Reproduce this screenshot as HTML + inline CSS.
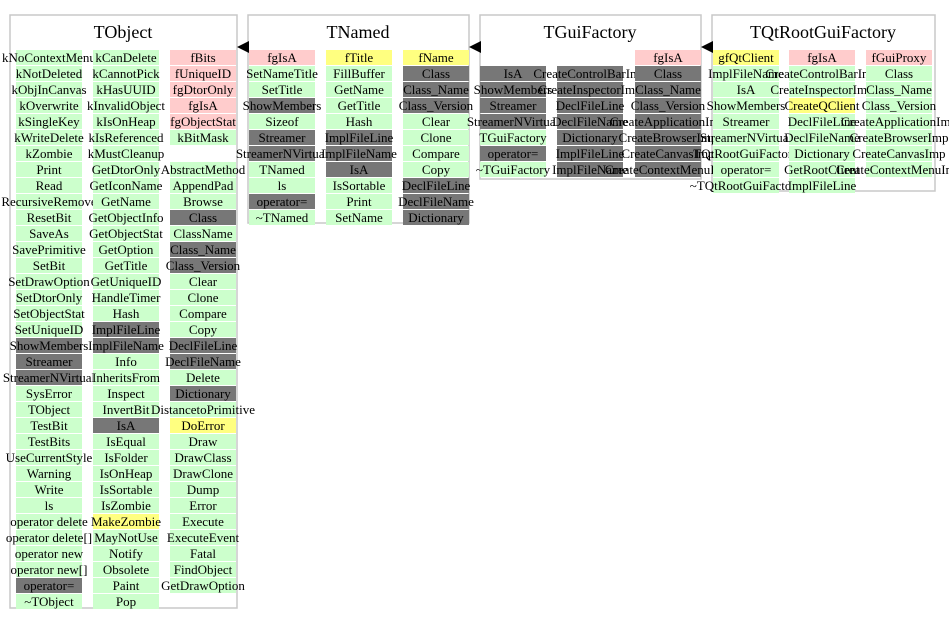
<!DOCTYPE html>
<html><head><meta charset="utf-8"><style>
html,body{margin:0;padding:0;background:#fff}
svg{display:block}
text{font-family:"Liberation Serif",serif;font-size:13px;text-anchor:middle;fill:#000}
.t{font-size:18px}
.g{fill:#ccffcc}.p{fill:#ffcccc}.y{fill:#ffff80}.d{fill:#777777}
.b{fill:#fff;stroke:#c8c8c8;stroke-width:1.5}
</style></head><body>
<svg width="949" height="624" viewBox="0 0 949 624">
<rect class="b" x="10" y="15" width="227" height="593"/>
<rect class="b" x="248" y="15" width="221" height="208"/>
<rect class="b" x="480" y="15" width="221" height="164"/>
<rect class="b" x="712" y="15" width="223" height="176"/>
<text class="t" x="123" y="38">TObject</text>
<text class="t" x="358" y="38">TNamed</text>
<text class="t" x="590" y="38">TGuiFactory</text>
<text class="t" x="823" y="38">TQtRootGuiFactory</text>
<polygon points="237,47 249,41 249,53" fill="#000"/>
<polygon points="469,47 481,41 481,53" fill="#000"/>
<polygon points="701,47 713,41 713,53" fill="#000"/>

<g>
<rect class="g" x="16" y="50" width="66" height="15"/><text x="49" y="62">kNoContextMenu</text>
<rect class="g" x="16" y="66" width="66" height="15"/><text x="49" y="78">kNotDeleted</text>
<rect class="g" x="16" y="82" width="66" height="15"/><text x="49" y="94">kObjInCanvas</text>
<rect class="g" x="16" y="98" width="66" height="15"/><text x="49" y="110">kOverwrite</text>
<rect class="g" x="16" y="114" width="66" height="15"/><text x="49" y="126">kSingleKey</text>
<rect class="g" x="16" y="130" width="66" height="15"/><text x="49" y="142">kWriteDelete</text>
<rect class="g" x="16" y="146" width="66" height="15"/><text x="49" y="158">kZombie</text>
<rect class="g" x="16" y="162" width="66" height="15"/><text x="49" y="174">Print</text>
<rect class="g" x="16" y="178" width="66" height="15"/><text x="49" y="190">Read</text>
<rect class="g" x="16" y="194" width="66" height="15"/><text x="49" y="206">RecursiveRemove</text>
<rect class="g" x="16" y="210" width="66" height="15"/><text x="49" y="222">ResetBit</text>
<rect class="g" x="16" y="226" width="66" height="15"/><text x="49" y="238">SaveAs</text>
<rect class="g" x="16" y="242" width="66" height="15"/><text x="49" y="254">SavePrimitive</text>
<rect class="g" x="16" y="258" width="66" height="15"/><text x="49" y="270">SetBit</text>
<rect class="g" x="16" y="274" width="66" height="15"/><text x="49" y="286">SetDrawOption</text>
<rect class="g" x="16" y="290" width="66" height="15"/><text x="49" y="302">SetDtorOnly</text>
<rect class="g" x="16" y="306" width="66" height="15"/><text x="49" y="318">SetObjectStat</text>
<rect class="g" x="16" y="322" width="66" height="15"/><text x="49" y="334">SetUniqueID</text>
<rect class="d" x="16" y="338" width="66" height="15"/><text x="49" y="350">ShowMembers</text>
<rect class="d" x="16" y="354" width="66" height="15"/><text x="49" y="366">Streamer</text>
<rect class="d" x="16" y="370" width="66" height="15"/><text x="49" y="382">StreamerNVirtual</text>
<rect class="g" x="16" y="386" width="66" height="15"/><text x="49" y="398">SysError</text>
<rect class="g" x="16" y="402" width="66" height="15"/><text x="49" y="414">TObject</text>
<rect class="g" x="16" y="418" width="66" height="15"/><text x="49" y="430">TestBit</text>
<rect class="g" x="16" y="434" width="66" height="15"/><text x="49" y="446">TestBits</text>
<rect class="g" x="16" y="450" width="66" height="15"/><text x="49" y="462">UseCurrentStyle</text>
<rect class="g" x="16" y="466" width="66" height="15"/><text x="49" y="478">Warning</text>
<rect class="g" x="16" y="482" width="66" height="15"/><text x="49" y="494">Write</text>
<rect class="g" x="16" y="498" width="66" height="15"/><text x="49" y="510">ls</text>
<rect class="g" x="16" y="514" width="66" height="15"/><text x="49" y="526">operator delete</text>
<rect class="g" x="16" y="530" width="66" height="15"/><text x="49" y="542">operator delete[]</text>
<rect class="g" x="16" y="546" width="66" height="15"/><text x="49" y="558">operator new</text>
<rect class="g" x="16" y="562" width="66" height="15"/><text x="49" y="574">operator new[]</text>
<rect class="d" x="16" y="578" width="66" height="15"/><text x="49" y="590">operator=</text>
<rect class="g" x="16" y="594" width="66" height="15"/><text x="49" y="606">~TObject</text>
</g>
<g>
<rect class="g" x="93" y="50" width="66" height="15"/><text x="126" y="62">kCanDelete</text>
<rect class="g" x="93" y="66" width="66" height="15"/><text x="126" y="78">kCannotPick</text>
<rect class="g" x="93" y="82" width="66" height="15"/><text x="126" y="94">kHasUUID</text>
<rect class="g" x="93" y="98" width="66" height="15"/><text x="126" y="110">kInvalidObject</text>
<rect class="g" x="93" y="114" width="66" height="15"/><text x="126" y="126">kIsOnHeap</text>
<rect class="g" x="93" y="130" width="66" height="15"/><text x="126" y="142">kIsReferenced</text>
<rect class="g" x="93" y="146" width="66" height="15"/><text x="126" y="158">kMustCleanup</text>
<rect class="g" x="93" y="162" width="66" height="15"/><text x="126" y="174">GetDtorOnly</text>
<rect class="g" x="93" y="178" width="66" height="15"/><text x="126" y="190">GetIconName</text>
<rect class="g" x="93" y="194" width="66" height="15"/><text x="126" y="206">GetName</text>
<rect class="g" x="93" y="210" width="66" height="15"/><text x="126" y="222">GetObjectInfo</text>
<rect class="g" x="93" y="226" width="66" height="15"/><text x="126" y="238">GetObjectStat</text>
<rect class="g" x="93" y="242" width="66" height="15"/><text x="126" y="254">GetOption</text>
<rect class="g" x="93" y="258" width="66" height="15"/><text x="126" y="270">GetTitle</text>
<rect class="g" x="93" y="274" width="66" height="15"/><text x="126" y="286">GetUniqueID</text>
<rect class="g" x="93" y="290" width="66" height="15"/><text x="126" y="302">HandleTimer</text>
<rect class="g" x="93" y="306" width="66" height="15"/><text x="126" y="318">Hash</text>
<rect class="d" x="93" y="322" width="66" height="15"/><text x="126" y="334">ImplFileLine</text>
<rect class="d" x="93" y="338" width="66" height="15"/><text x="126" y="350">ImplFileName</text>
<rect class="g" x="93" y="354" width="66" height="15"/><text x="126" y="366">Info</text>
<rect class="g" x="93" y="370" width="66" height="15"/><text x="126" y="382">InheritsFrom</text>
<rect class="g" x="93" y="386" width="66" height="15"/><text x="126" y="398">Inspect</text>
<rect class="g" x="93" y="402" width="66" height="15"/><text x="126" y="414">InvertBit</text>
<rect class="d" x="93" y="418" width="66" height="15"/><text x="126" y="430">IsA</text>
<rect class="g" x="93" y="434" width="66" height="15"/><text x="126" y="446">IsEqual</text>
<rect class="g" x="93" y="450" width="66" height="15"/><text x="126" y="462">IsFolder</text>
<rect class="g" x="93" y="466" width="66" height="15"/><text x="126" y="478">IsOnHeap</text>
<rect class="g" x="93" y="482" width="66" height="15"/><text x="126" y="494">IsSortable</text>
<rect class="g" x="93" y="498" width="66" height="15"/><text x="126" y="510">IsZombie</text>
<rect class="y" x="93" y="514" width="66" height="15"/><text x="126" y="526">MakeZombie</text>
<rect class="g" x="93" y="530" width="66" height="15"/><text x="126" y="542">MayNotUse</text>
<rect class="g" x="93" y="546" width="66" height="15"/><text x="126" y="558">Notify</text>
<rect class="g" x="93" y="562" width="66" height="15"/><text x="126" y="574">Obsolete</text>
<rect class="g" x="93" y="578" width="66" height="15"/><text x="126" y="590">Paint</text>
<rect class="g" x="93" y="594" width="66" height="15"/><text x="126" y="606">Pop</text>
</g>
<g>
<rect class="p" x="170" y="50" width="66" height="15"/><text x="203" y="62">fBits</text>
<rect class="p" x="170" y="66" width="66" height="15"/><text x="203" y="78">fUniqueID</text>
<rect class="p" x="170" y="82" width="66" height="15"/><text x="203" y="94">fgDtorOnly</text>
<rect class="p" x="170" y="98" width="66" height="15"/><text x="203" y="110">fgIsA</text>
<rect class="p" x="170" y="114" width="66" height="15"/><text x="203" y="126">fgObjectStat</text>
<rect class="g" x="170" y="130" width="66" height="15"/><text x="203" y="142">kBitMask</text>
<rect class="g" x="170" y="162" width="66" height="15"/><text x="203" y="174">AbstractMethod</text>
<rect class="g" x="170" y="178" width="66" height="15"/><text x="203" y="190">AppendPad</text>
<rect class="g" x="170" y="194" width="66" height="15"/><text x="203" y="206">Browse</text>
<rect class="d" x="170" y="210" width="66" height="15"/><text x="203" y="222">Class</text>
<rect class="g" x="170" y="226" width="66" height="15"/><text x="203" y="238">ClassName</text>
<rect class="d" x="170" y="242" width="66" height="15"/><text x="203" y="254">Class_Name</text>
<rect class="d" x="170" y="258" width="66" height="15"/><text x="203" y="270">Class_Version</text>
<rect class="g" x="170" y="274" width="66" height="15"/><text x="203" y="286">Clear</text>
<rect class="g" x="170" y="290" width="66" height="15"/><text x="203" y="302">Clone</text>
<rect class="g" x="170" y="306" width="66" height="15"/><text x="203" y="318">Compare</text>
<rect class="g" x="170" y="322" width="66" height="15"/><text x="203" y="334">Copy</text>
<rect class="d" x="170" y="338" width="66" height="15"/><text x="203" y="350">DeclFileLine</text>
<rect class="d" x="170" y="354" width="66" height="15"/><text x="203" y="366">DeclFileName</text>
<rect class="g" x="170" y="370" width="66" height="15"/><text x="203" y="382">Delete</text>
<rect class="d" x="170" y="386" width="66" height="15"/><text x="203" y="398">Dictionary</text>
<rect class="g" x="170" y="402" width="66" height="15"/><text x="203" y="414">DistancetoPrimitive</text>
<rect class="y" x="170" y="418" width="66" height="15"/><text x="203" y="430">DoError</text>
<rect class="g" x="170" y="434" width="66" height="15"/><text x="203" y="446">Draw</text>
<rect class="g" x="170" y="450" width="66" height="15"/><text x="203" y="462">DrawClass</text>
<rect class="g" x="170" y="466" width="66" height="15"/><text x="203" y="478">DrawClone</text>
<rect class="g" x="170" y="482" width="66" height="15"/><text x="203" y="494">Dump</text>
<rect class="g" x="170" y="498" width="66" height="15"/><text x="203" y="510">Error</text>
<rect class="g" x="170" y="514" width="66" height="15"/><text x="203" y="526">Execute</text>
<rect class="g" x="170" y="530" width="66" height="15"/><text x="203" y="542">ExecuteEvent</text>
<rect class="g" x="170" y="546" width="66" height="15"/><text x="203" y="558">Fatal</text>
<rect class="g" x="170" y="562" width="66" height="15"/><text x="203" y="574">FindObject</text>
<rect class="g" x="170" y="578" width="66" height="15"/><text x="203" y="590">GetDrawOption</text>
</g>

<g>
<rect class="p" x="249" y="50" width="66" height="15"/><text x="282" y="62">fgIsA</text>
<rect class="g" x="249" y="66" width="66" height="15"/><text x="282" y="78">SetNameTitle</text>
<rect class="g" x="249" y="82" width="66" height="15"/><text x="282" y="94">SetTitle</text>
<rect class="d" x="249" y="98" width="66" height="15"/><text x="282" y="110">ShowMembers</text>
<rect class="g" x="249" y="114" width="66" height="15"/><text x="282" y="126">Sizeof</text>
<rect class="d" x="249" y="130" width="66" height="15"/><text x="282" y="142">Streamer</text>
<rect class="d" x="249" y="146" width="66" height="15"/><text x="282" y="158">StreamerNVirtual</text>
<rect class="g" x="249" y="162" width="66" height="15"/><text x="282" y="174">TNamed</text>
<rect class="g" x="249" y="178" width="66" height="15"/><text x="282" y="190">ls</text>
<rect class="d" x="249" y="194" width="66" height="15"/><text x="282" y="206">operator=</text>
<rect class="g" x="249" y="210" width="66" height="15"/><text x="282" y="222">~TNamed</text>

<rect class="y" x="326" y="50" width="66" height="15"/><text x="359" y="62">fTitle</text>
<rect class="g" x="326" y="66" width="66" height="15"/><text x="359" y="78">FillBuffer</text>
<rect class="g" x="326" y="82" width="66" height="15"/><text x="359" y="94">GetName</text>
<rect class="g" x="326" y="98" width="66" height="15"/><text x="359" y="110">GetTitle</text>
<rect class="g" x="326" y="114" width="66" height="15"/><text x="359" y="126">Hash</text>
<rect class="d" x="326" y="130" width="66" height="15"/><text x="359" y="142">ImplFileLine</text>
<rect class="d" x="326" y="146" width="66" height="15"/><text x="359" y="158">ImplFileName</text>
<rect class="d" x="326" y="162" width="66" height="15"/><text x="359" y="174">IsA</text>
<rect class="g" x="326" y="178" width="66" height="15"/><text x="359" y="190">IsSortable</text>
<rect class="g" x="326" y="194" width="66" height="15"/><text x="359" y="206">Print</text>
<rect class="g" x="326" y="210" width="66" height="15"/><text x="359" y="222">SetName</text>

<rect class="y" x="403" y="50" width="66" height="15"/><text x="436" y="62">fName</text>
<rect class="d" x="403" y="66" width="66" height="15"/><text x="436" y="78">Class</text>
<rect class="d" x="403" y="82" width="66" height="15"/><text x="436" y="94">Class_Name</text>
<rect class="d" x="403" y="98" width="66" height="15"/><text x="436" y="110">Class_Version</text>
<rect class="g" x="403" y="114" width="66" height="15"/><text x="436" y="126">Clear</text>
<rect class="g" x="403" y="130" width="66" height="15"/><text x="436" y="142">Clone</text>
<rect class="g" x="403" y="146" width="66" height="15"/><text x="436" y="158">Compare</text>
<rect class="g" x="403" y="162" width="66" height="15"/><text x="436" y="174">Copy</text>
<rect class="d" x="403" y="178" width="66" height="15"/><text x="436" y="190">DeclFileLine</text>
<rect class="d" x="403" y="194" width="66" height="15"/><text x="436" y="206">DeclFileName</text>
<rect class="d" x="403" y="210" width="66" height="15"/><text x="436" y="222">Dictionary</text>
</g>

<g>
<rect class="d" x="480" y="66" width="66" height="15"/><text x="513" y="78">IsA</text>
<rect class="d" x="480" y="82" width="66" height="15"/><text x="513" y="94">ShowMembers</text>
<rect class="d" x="480" y="98" width="66" height="15"/><text x="513" y="110">Streamer</text>
<rect class="d" x="480" y="114" width="66" height="15"/><text x="513" y="126">StreamerNVirtual</text>
<rect class="g" x="480" y="130" width="66" height="15"/><text x="513" y="142">TGuiFactory</text>
<rect class="d" x="480" y="146" width="66" height="15"/><text x="513" y="158">operator=</text>
<rect class="g" x="480" y="162" width="66" height="15"/><text x="513" y="174">~TGuiFactory</text>

<rect class="d" x="557" y="66" width="66" height="15"/><text x="590" y="78">CreateControlBarImp</text>
<rect class="d" x="557" y="82" width="66" height="15"/><text x="590" y="94">CreateInspectorImp</text>
<rect class="d" x="557" y="98" width="66" height="15"/><text x="590" y="110">DeclFileLine</text>
<rect class="d" x="557" y="114" width="66" height="15"/><text x="590" y="126">DeclFileName</text>
<rect class="d" x="557" y="130" width="66" height="15"/><text x="590" y="142">Dictionary</text>
<rect class="d" x="557" y="146" width="66" height="15"/><text x="590" y="158">ImplFileLine</text>
<rect class="d" x="557" y="162" width="66" height="15"/><text x="590" y="174">ImplFileName</text>

<rect class="p" x="635" y="50" width="66" height="15"/><text x="668" y="62">fgIsA</text>
<rect class="d" x="635" y="66" width="66" height="15"/><text x="668" y="78">Class</text>
<rect class="d" x="635" y="82" width="66" height="15"/><text x="668" y="94">Class_Name</text>
<rect class="d" x="635" y="98" width="66" height="15"/><text x="668" y="110">Class_Version</text>
<rect class="d" x="635" y="114" width="66" height="15"/><text x="668" y="126">CreateApplicationImp</text>
<rect class="d" x="635" y="130" width="66" height="15"/><text x="668" y="142">CreateBrowserImp</text>
<rect class="d" x="635" y="146" width="66" height="15"/><text x="668" y="158">CreateCanvasImp</text>
<rect class="d" x="635" y="162" width="66" height="15"/><text x="668" y="174">CreateContextMenuImp</text>
</g>

<g>
<rect class="y" x="713" y="50" width="66" height="15"/><text x="746" y="62">gfQtClient</text>
<rect class="g" x="713" y="66" width="66" height="15"/><text x="746" y="78">ImplFileName</text>
<rect class="g" x="713" y="82" width="66" height="15"/><text x="746" y="94">IsA</text>
<rect class="g" x="713" y="98" width="66" height="15"/><text x="746" y="110">ShowMembers</text>
<rect class="g" x="713" y="114" width="66" height="15"/><text x="746" y="126">Streamer</text>
<rect class="g" x="713" y="130" width="66" height="15"/><text x="746" y="142">StreamerNVirtual</text>
<rect class="g" x="713" y="146" width="66" height="15"/><text x="746" y="158">TQtRootGuiFactory</text>
<rect class="g" x="713" y="162" width="66" height="15"/><text x="746" y="174">operator=</text>
<rect class="g" x="713" y="178" width="66" height="15"/><text x="746" y="190">~TQtRootGuiFactory</text>

<rect class="p" x="789" y="50" width="66" height="15"/><text x="822" y="62">fgIsA</text>
<rect class="g" x="789" y="66" width="66" height="15"/><text x="822" y="78">CreateControlBarImp</text>
<rect class="g" x="789" y="82" width="66" height="15"/><text x="822" y="94">CreateInspectorImp</text>
<rect class="y" x="789" y="98" width="66" height="15"/><text x="822" y="110">CreateQClient</text>
<rect class="g" x="789" y="114" width="66" height="15"/><text x="822" y="126">DeclFileLine</text>
<rect class="g" x="789" y="130" width="66" height="15"/><text x="822" y="142">DeclFileName</text>
<rect class="g" x="789" y="146" width="66" height="15"/><text x="822" y="158">Dictionary</text>
<rect class="g" x="789" y="162" width="66" height="15"/><text x="822" y="174">GetRootClient</text>
<rect class="g" x="789" y="178" width="66" height="15"/><text x="822" y="190">ImplFileLine</text>

<rect class="p" x="866" y="50" width="66" height="15"/><text x="899" y="62">fGuiProxy</text>
<rect class="g" x="866" y="66" width="66" height="15"/><text x="899" y="78">Class</text>
<rect class="g" x="866" y="82" width="66" height="15"/><text x="899" y="94">Class_Name</text>
<rect class="g" x="866" y="98" width="66" height="15"/><text x="899" y="110">Class_Version</text>
<rect class="g" x="866" y="114" width="66" height="15"/><text x="899" y="126">CreateApplicationImp</text>
<rect class="g" x="866" y="130" width="66" height="15"/><text x="899" y="142">CreateBrowserImp</text>
<rect class="g" x="866" y="146" width="66" height="15"/><text x="899" y="158">CreateCanvasImp</text>
<rect class="g" x="866" y="162" width="66" height="15"/><text x="899" y="174">CreateContextMenuImp</text>
</g>
</svg>
</body></html>
